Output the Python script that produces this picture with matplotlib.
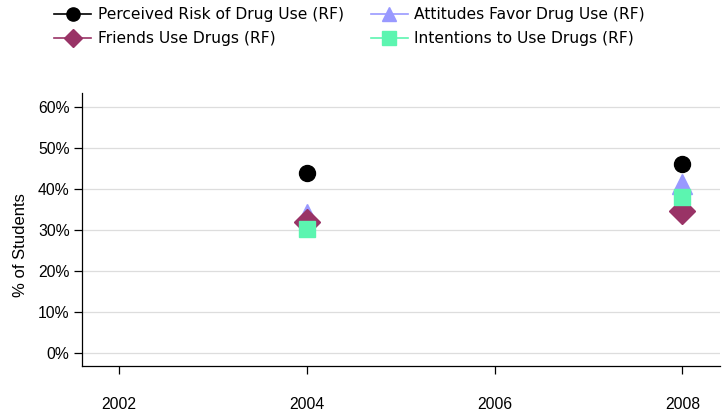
import matplotlib
matplotlib.use("Agg")
import matplotlib.pyplot as plt
from matplotlib.ticker import FuncFormatter
from matplotlib.lines import Line2D

years = [2004, 2008]
perceived_risk = [43.8, 46.1]
attitudes_favor = [33.8, 41.3]
friends_use = [32.0, 34.5]
intentions_use = [30.2, 38.0]
x_ticks = [2002, 2004, 2006, 2008]
y_ticks = [0, 10, 20, 30, 40, 50, 60]

fig = plt.figure(figsize=(7.27, 4.13), dpi=100)
ax = fig.add_axes([0.1128, 0.1138, 0.8776, 0.661])

ax.plot(years, perceived_risk, color='black', marker='o', markersize=11.5, linestyle='none', zorder=6)
ax.plot(years, attitudes_favor, color='#9999ff', marker='^', markersize=14, linestyle='none', zorder=3)
ax.plot(years, friends_use, color='#993366', marker='D', markersize=13, linestyle='none', zorder=4)
ax.plot(years, intentions_use, color='#5cf5b0', marker='s', markersize=11, linestyle='none', zorder=5)

ax.set_xlim(2001.61, 2008.40)
ax.set_ylim(-3.2, 63.4)
ax.set_xticks(x_ticks)
ax.set_yticks(y_ticks)
ax.yaxis.set_major_formatter(FuncFormatter(lambda v, p: f"{int(v)}%"))
ax.grid(axis='y', color='#dddddd', linewidth=0.9)
ax.set_axisbelow(True)
for s in ['top', 'right']:
    ax.spines[s].set_visible(False)
for s in ['left', 'bottom']:
    ax.spines[s].set_color('black')
    ax.spines[s].set_linewidth(0.9)
ax.tick_params(axis='both', labelsize=11.3, colors='black', length=6, width=0.9)
ax.tick_params(axis='x', pad=16)
ax.tick_params(axis='y', pad=3)
for lbl in ax.get_xticklabels() + ax.get_yticklabels():
    lbl.set_family('Liberation Sans')
ax.set_ylabel('% of Students', fontsize=12, family='Liberation Sans')
ax.yaxis.set_label_coords(-0.085, 0.443)

handles = [
    Line2D([], [], color='black', marker='o', markersize=9.5, linewidth=1.2),
    Line2D([], [], color='#993366', marker='D', markersize=9.5, linewidth=1.2),
    Line2D([], [], color='#9999ff', marker='^', markersize=10, linewidth=1.2),
    Line2D([], [], color='#5cf5b0', marker='s', markersize=9.5, linewidth=1.2),
]
labels = ['Perceived Risk of Drug Use (RF)', 'Friends Use Drugs (RF)',
          'Attitudes Favor Drug Use (RF)', 'Intentions to Use Drugs (RF)']
prop = {'family': 'DejaVu Sans', 'size': 11.2}
fig.legend(handles, labels, ncol=2, loc='upper left', bbox_to_anchor=(0.055, 1.016),
           frameon=False, prop=prop,
           handlelength=2.4, handletextpad=0.4, columnspacing=1.75, labelspacing=0.56)

fig.savefig('out.png', dpi=100)
